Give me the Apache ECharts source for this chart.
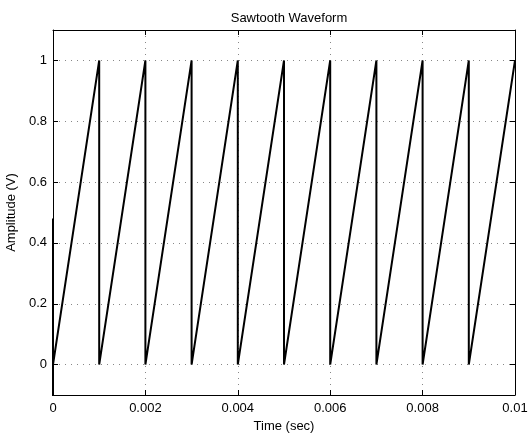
<!DOCTYPE html>
<html>
<head>
<meta charset="utf-8">
<script src="https://cdn.jsdelivr.net/npm/echarts@6/dist/echarts.min.js"></script>
<style>
  html, body { margin: 0; padding: 0; background: #fff; }
  #chart { width: 528px; height: 437px; }
</style>
</head>
<body>
<div id="chart"></div>
<script>
// time (s) and amplitude (V) of the sawtooth trace
const times = [0, 0, 0, 0.001, 0.001, 0.002, 0.002, 0.003, 0.003, 0.004, 0.004,
  0.005, 0.005, 0.006, 0.006, 0.007, 0.007, 0.008, 0.008, 0.009, 0.009, 0.01];
const amps = [0.48, -0.2, 0, 1, 0, 1, 0, 1, 0, 1, 0,
  1, 0, 1, 0, 1, 0, 1, 0, 1, 0, 1];

const xTicks = [0, 0.002, 0.004, 0.006, 0.008, 0.01];
const yTicks = [0, 0.2, 0.4, 0.6, 0.8, 1];

const font = "'Liberation Sans', Arial, Helvetica, sans-serif";
const chart = echarts.init(document.getElementById("chart"));

const grid = { left: 53, right: 13, top: 30, bottom: 42, containLabel: false, outerBoundsMode: "none" };
const dotted = { show: true, lineStyle: { color: "#888", type: [1, 5], width: 1 } };
const axisLine = { show: true, onZero: false, lineStyle: { color: "#000", width: 1 } };
const tick = { show: true, inside: true, length: 5, lineStyle: { color: "#000" } };

const option = {
  animation: false,
  title: {
    text: "Sawtooth Waveform",
    left: 284,
    textAlign: "center",
    top: 7,
    textStyle: { fontFamily: font, fontSize: 13, fontWeight: "normal", color: "#000" }
  },
  grid: grid,
  xAxis: [
    {
      type: "value",
      min: 0,
      max: 0.01,
      name: "Time (sec)",
      nameLocation: "middle",
      nameGap: 25,
      nameTextStyle: { fontFamily: font, fontSize: 13, color: "#000" },
      axisLine: axisLine,
      axisTick: Object.assign({ customValues: xTicks }, tick),
      axisLabel: { customValues: xTicks, margin: 7, fontFamily: font, fontSize: 13, color: "#000" },
      splitLine: dotted
    },
    {
      type: "value",
      position: "top",
      min: 0,
      max: 0.01,
      axisLine: axisLine,
      axisTick: Object.assign({ customValues: xTicks }, tick),
      axisLabel: { show: false },
      splitLine: { show: false }
    }
  ],
  yAxis: [
    {
      type: "value",
      min: -0.1,
      max: 1.1,
      name: "Amplitude (V)",
      nameLocation: "middle",
      nameGap: 29,
      nameTextStyle: { fontFamily: font, fontSize: 13, color: "#000" },
      axisLine: axisLine,
      axisTick: Object.assign({ customValues: yTicks }, tick),
      axisLabel: { customValues: yTicks, margin: 6, fontFamily: font, fontSize: 13, color: "#000" },
      splitLine: dotted
    },
    {
      type: "value",
      position: "right",
      min: -0.1,
      max: 1.1,
      axisLine: axisLine,
      axisTick: Object.assign({ customValues: yTicks }, tick),
      axisLabel: { show: false },
      splitLine: { show: false }
    }
  ],
  series: [
    {
      type: "line",
      xAxisIndex: 0,
      yAxisIndex: 0,
      data: times.map((t, i) => [t, amps[i]]),
      showSymbol: false,
      clip: true,
      lineStyle: { color: "#000", width: 2 }
    }
  ]
};

chart.setOption(option);
</script>
</body>
</html>
